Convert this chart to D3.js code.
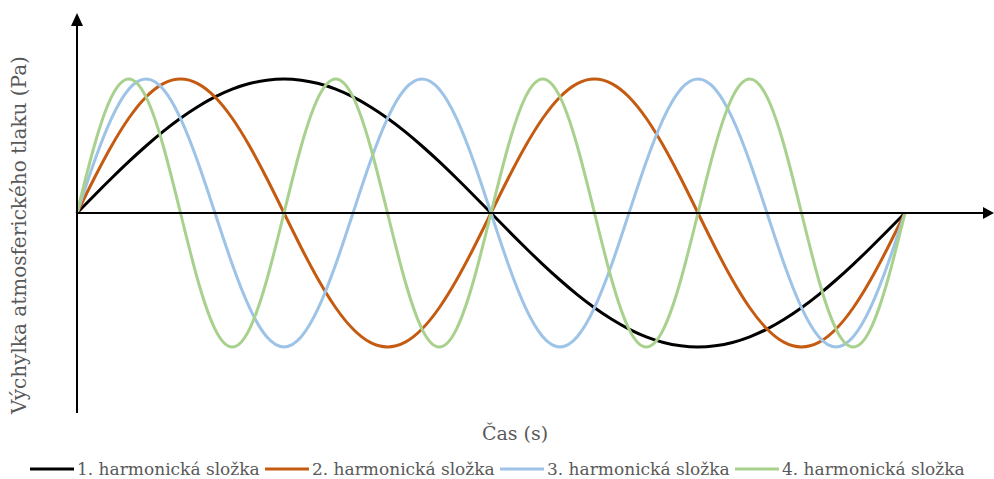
<!DOCTYPE html>
<html>
<head>
<meta charset="utf-8">
<script src="https://cdn.jsdelivr.net/npm/d3@7"></script>
<style>
  html, body { margin: 0; padding: 0; background: #fff; }
  svg { display: block; }
  text { font-family: "DejaVu Serif", serif; fill: #595959; }
</style>
</head>
<body>
<svg id="chart" width="994" height="479"></svg>
<script>
// Sample index along one period of the fundamental (49 samples)
const sampleCount = 49;

// Pressure deviation of each harmonic at every sample (Pa)
const harmonic1 = [0, 0.131, 0.259, 0.383, 0.5, 0.609, 0.707, 0.793, 0.866, 0.924, 0.966, 0.991, 1,
  0.991, 0.966, 0.924, 0.866, 0.793, 0.707, 0.609, 0.5, 0.383, 0.259, 0.131, 0,
  -0.131, -0.259, -0.383, -0.5, -0.609, -0.707, -0.793, -0.866, -0.924, -0.966, -0.991, -1,
  -0.991, -0.966, -0.924, -0.866, -0.793, -0.707, -0.609, -0.5, -0.383, -0.259, -0.131, 0];

const harmonic2 = [0, 0.259, 0.5, 0.707, 0.866, 0.966, 1, 0.966, 0.866, 0.707, 0.5, 0.259,
  0, -0.259, -0.5, -0.707, -0.866, -0.966, -1, -0.966, -0.866, -0.707, -0.5, -0.259,
  0, 0.259, 0.5, 0.707, 0.866, 0.966, 1, 0.966, 0.866, 0.707, 0.5, 0.259,
  0, -0.259, -0.5, -0.707, -0.866, -0.966, -1, -0.966, -0.866, -0.707, -0.5, -0.259, 0];

const harmonic3 = [0, 0.383, 0.707, 0.924, 1, 0.924, 0.707, 0.383, 0, -0.383, -0.707, -0.924, -1, -0.924, -0.707, -0.383,
  0, 0.383, 0.707, 0.924, 1, 0.924, 0.707, 0.383, 0, -0.383, -0.707, -0.924, -1, -0.924, -0.707, -0.383,
  0, 0.383, 0.707, 0.924, 1, 0.924, 0.707, 0.383, 0, -0.383, -0.707, -0.924, -1, -0.924, -0.707, -0.383, 0];

const harmonic4 = [0, 0.5, 0.866, 1, 0.866, 0.5, 0, -0.5, -0.866, -1, -0.866, -0.5,
  0, 0.5, 0.866, 1, 0.866, 0.5, 0, -0.5, -0.866, -1, -0.866, -0.5,
  0, 0.5, 0.866, 1, 0.866, 0.5, 0, -0.5, -0.866, -1, -0.866, -0.5,
  0, 0.5, 0.866, 1, 0.866, 0.5, 0, -0.5, -0.866, -1, -0.866, -0.5, 0];

const seriesNames = ["1. harmonická složka", "2. harmonická složka", "3. harmonická složka", "4. harmonická složka"];
const seriesColors = ["#000000", "#c55a11", "#9dc3e6", "#a9d18e"];
const seriesValues = [harmonic1, harmonic2, harmonic3, harmonic4];

const xTitle = "Čas (s)";
const yTitle = "Výchylka atmosferického tlaku (Pa)";

const svg = d3.select("#chart");

const x = d3.scaleLinear().domain([0, sampleCount - 1]).range([77, 905]);
const y = d3.scaleLinear().domain([-1, 1]).range([347, 79]);

// Smooth curves through the samples
const line = d3.line()
  .x((d, i) => x(i))
  .y(d => y(d))
  .curve(d3.curveNatural);

// Axes with arrowheads
const axes = svg.append("g");
axes.append("line")
  .attr("x1", x(0)).attr("x2", 984)
  .attr("y1", y(0)).attr("y2", y(0))
  .attr("stroke", "#000").attr("stroke-width", 2);
axes.append("path")
  .attr("d", `M994,${y(0)} L983,${y(0) - 6} L983,${y(0) + 6} Z`)
  .attr("fill", "#000");
axes.append("line")
  .attr("x1", x(0)).attr("x2", x(0))
  .attr("y1", 413).attr("y2", 24)
  .attr("stroke", "#000").attr("stroke-width", 2);
axes.append("path")
  .attr("d", `M${x(0)},13 L${x(0) - 6},26 L${x(0) + 6},26 Z`)
  .attr("fill", "#000");

const curves = svg.append("g");
seriesValues.forEach((vals, i) => {
  curves.append("path")
    .datum(vals)
    .attr("fill", "none")
    .attr("stroke", seriesColors[i])
    .attr("stroke-width", 3)
    .attr("stroke-linejoin", "round")
    .attr("d", line);
});

// Keep the axes above the curves
axes.raise();

// Axis titles
svg.append("text")
  .attr("x", 515).attr("y", 440)
  .attr("text-anchor", "middle")
  .style("font-size", "19px")
  .text(xTitle);

svg.append("text")
  .attr("transform", "translate(26,235) rotate(-90)")
  .attr("text-anchor", "middle")
  .style("font-size", "20px")
  .text(yTitle);

// Legend
const legendX = [30, 265, 500, 735];
const legend = svg.append("g");
seriesNames.forEach((name, i) => {
  const g = legend.append("g").attr("transform", `translate(${legendX[i]},469)`);
  g.append("line")
    .attr("x1", 0).attr("x2", 44)
    .attr("y1", 0).attr("y2", 0)
    .attr("stroke", seriesColors[i])
    .attr("stroke-width", 3);
  g.append("text")
    .attr("x", 47).attr("y", 6)
    .style("font-size", "17px")
    .text(name);
});
</script>
</body>
</html>
